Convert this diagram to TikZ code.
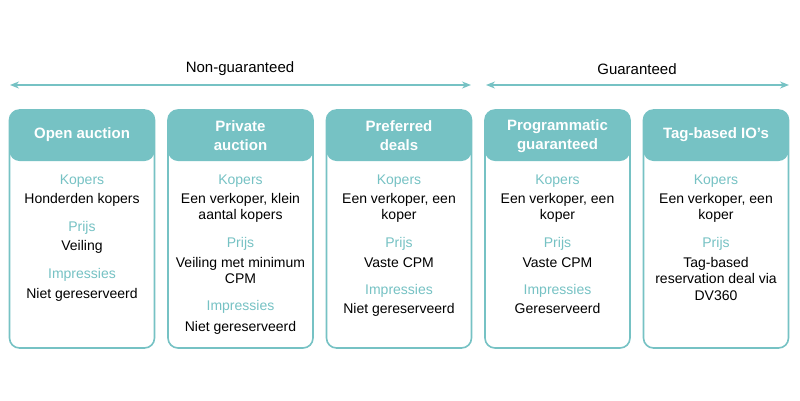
\documentclass[tikz,border=0pt]{standalone}
\usepackage{fontspec}
\setmainfont{Liberation Sans}
\usetikzlibrary{positioning,arrows.meta}
\definecolor{adteal}{HTML}{76C2C4}
\newcommand{\subhd}[1]{{\color{adteal}#1}}

\begin{document}
\begin{tikzpicture}[
    x=1pt, y=-1pt,
    card/.style={rectangle, draw=adteal, line width=1.6pt, fill=white, rounded corners=10pt, minimum width=145pt, minimum height=238pt, inner sep=0pt,
        path picture={\fill[adteal] (path picture bounding box.north west) rectangle ([yshift=-51pt]path picture bounding box.north east);}},
    head/.style={text=white, font=\fontsize{15}{19}\selectfont\bfseries, align=center, inner sep=0pt},
    body/.style={font=\fontsize{14}{16.5}\selectfont, align=center, anchor=north, inner sep=0pt},
    title/.style={font=\fontsize{15}{18}\selectfont, inner sep=0pt},
    span/.style={draw=adteal, line width=1.4pt, {Stealth[length=9pt,width=7pt]}-{Stealth[length=9pt,width=7pt]}}
]
    \useasboundingbox (0,0) rectangle (800,400);

    % top ranges
    \coordinate (ngleft) at (10,85);
    \coordinate (ngright) at (471,85);
    \coordinate (gleft) at (486,85);
    \coordinate (gright) at (789,85);
    \draw[span] (ngleft) -- (ngright);
    \draw[span] (gleft) -- (gright);
    \node[title] (nonguar) at (240,69) {Non-guaranteed};
    \node[title] (guar) at (637,69) {Guaranteed};

    % cards
    \node[card] (open) at (82,229) {};
    \node[card] (private) at (240.5,229) {};
    \node[card] (preferred) at (399,229) {};
    \node[card] (progguar) at (557.5,229) {};
    \node[card] (tagbased) at (716,229) {};

    \node[head] (openhead) at (82,135) {Open auction};
    \node[head] (privatehead) at (240.5,136) {Private\\auction};
    \node[head] (preferredhead) at (399,136) {Preferred\\deals};
    \node[head] (progguarhead) at (557.5,136) {Programmatic\\guaranteed};
    \node[head] (tagbasedhead) at (716,135) {Tag-based IO’s};

    \node[body] (openbody) at (82,175) {\subhd{Kopers}\\[2pt] Honderden kopers\\[11.5pt]
        \subhd{Prijs}\\[2.5pt] Veiling\\[11.5pt] \subhd{Impressies}\\[4pt] Niet gereserveerd};
    \node[body] (privatebody) at (240.5,175) {\subhd{Kopers}\\[2pt] Een verkoper, klein\\ aantal kopers\\[11.5pt]
        \subhd{Prijs}\\[3pt] Veiling met minimum\\ CPM\\[10.5pt] \subhd{Impressies}\\[4pt] Niet gereserveerd};
    \node[body] (preferredbody) at (399,175) {\subhd{Kopers}\\[2pt] Een verkoper, een\\ koper\\[11.5pt]
        \subhd{Prijs}\\[3pt] Vaste CPM\\[10.5pt] \subhd{Impressies}\\[3pt] Niet gereserveerd};
    \node[body] (progguarbody) at (557.5,175) {\subhd{Kopers}\\[2pt] Een verkoper, een\\ koper\\[11.5pt]
        \subhd{Prijs}\\[3pt] Vaste CPM\\[10.5pt] \subhd{Impressies}\\[3pt] Gereserveerd};
    \node[body] (tagbasedbody) at (716,175) {\subhd{Kopers}\\[2pt] Een verkoper, een\\ koper\\[11.5pt]
        \subhd{Prijs}\\[3pt] Tag-based\\ reservation deal via\\ DV360};
\end{tikzpicture}
\end{document}
